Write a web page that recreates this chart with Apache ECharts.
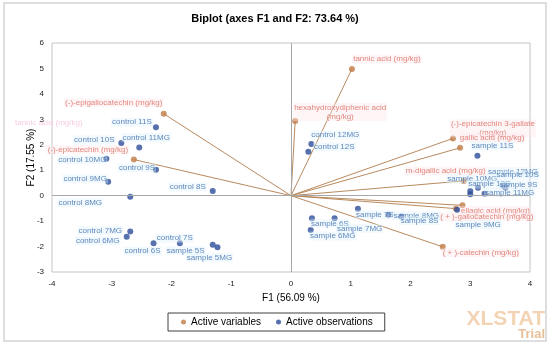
<!DOCTYPE html>
<html>
<head>
<meta charset="utf-8">
<script src="https://cdn.jsdelivr.net/npm/echarts@6/dist/echarts.min.js"></script>
<style>html,body{margin:0;padding:0;background:#fff}#c{width:550px;height:345px}</style>
</head>
<body>
<div id="c"></div>
<script>
// ---- data ----
const varNames = ['(-)-epigallocatechin (mg/kg)', '(-)-epicatechin (mg/kg)', 'tannic acid (mg/kg)',
  'hexahydroxydiphenic acid\n(mg/kg)', '(-)-epicatechin 3-gallate\n(mg/kg)', 'gallic acid (mg/kg)',
  'm-digallic acid (mg/kg)', 'ellagic acid (mg/kg)', '( + )-gallocatechin (mg/kg)', '( + )-catechin (mg/kg)'];
const varF1 = [-2.13, -2.63, 1.02, 0.07, 2.71, 2.83, 2.89, 2.87, 2.76, 2.54];
const varF2 = [3.22, 1.42, 4.98, 2.93, 2.25, 1.88, 0.58, -0.38, -0.51, -2.01];

const obsNames = ['control 11S', 'control 10S', 'control 11MG', 'control 10MG', 'control 9S', 'control 9MG',
  'control 8MG', 'control 8S', 'control 7MG', 'control 6MG', 'control 6S', 'control 7S', 'sample 5S', 'sample 5MG',
  'control 12MG', 'control 12S', 'sample 6S', 'sample 6MG', 'sample 7MG', 'sample 7S', 'sample 8MG', 'sample 8S',
  'sample 11S', 'sample 10MG', 'sample 12S', 'sample 12MG', 'sample 11MG', 'sample 10S', 'sample 9S', 'sample 9MG'];
const obsF1 = [-2.26, -2.84, -2.54, -3.09, -2.26, -3.06, -2.69, -1.31, -2.69, -2.75, -2.30, -1.86, -1.31, -1.23,
  0.34, 0.29, 0.35, 0.33, 0.73, 1.12, 1.63, 1.85, 3.12, 3.00, 3.00, 3.13, 3.24, 3.56, 3.59, 2.78];
const obsF2 = [2.69, 2.07, 1.89, 1.45, 1.02, 0.55, -0.04, 0.18, -1.41, -1.61, -1.87, -1.87, -1.93, -2.03,
  2.03, 1.73, -0.89, -1.35, -0.89, -0.51, -0.75, -0.82, 1.57, 0.18, 0.06, 0.31, 0.08, 0.37, 0.31, -0.55];

const xRange = [-4, 4], yRange = [-3, 6], tickStep = 1;
const titleText = 'Biplot (axes F1 and F2: 73.64 %)';
const xName = 'F1 (56.09 %)', yName = 'F2 (17.55 %)';

// ---- label placement (styling, pixel offsets of label centre from point) ----
const varLabelOffset = {
  '(-)-epigallocatechin (mg/kg)': [-50, -11], '(-)-epicatechin (mg/kg)': [-46, -10], 'tannic acid (mg/kg)': [35, -10],
  'hexahydroxydiphenic acid\n(mg/kg)': [45, -9], '(-)-epicatechin 3-gallate\n(mg/kg)': [40, -10],
  'gallic acid (mg/kg)': [32, -10], 'm-digallic acid (mg/kg)': [-18, -10], 'ellagic acid (mg/kg)': [33, 5],
  '( + )-gallocatechin (mg/kg)': [31, 8], '( + )-catechin (mg/kg)': [38, 6]
};
const obsLabelOffset = {
  'control 11S': [-24, -5], 'control 10S': [-27, -3], 'control 11MG': [7, -10], 'control 10MG': [-24, 1],
  'control 9S': [-19, -2], 'control 9MG': [-23, -3], 'control 8MG': [-50, 6], 'control 8S': [-25, -4],
  'control 7MG': [-30, -1], 'control 6MG': [-29, 4], 'control 6S': [-11, 8], 'control 7S': [-5, -5],
  'sample 5S': [-27, 6], 'sample 5MG': [-8, 10], 'control 12MG': [24, -9], 'control 12S': [26, -5],
  'sample 6S': [18, 5], 'sample 6MG': [22, 6], 'sample 7MG': [25, 10], 'sample 7S': [17, 6],
  'sample 8MG': [28, 1], 'sample 8S': [18, 4], 'sample 11S': [15, -10], 'sample 10MG': [2, -12],
  'sample 12S': [19, -10], 'sample 12MG': [35, -16], 'sample 11MG': [25, -1], 'sample 10S': [14, -11],
  'sample 9S': [13, -3], 'sample 9MG': [21, 15]
};

const FONT = '"Liberation Sans", Arial, sans-serif';
const chart = echarts.init(document.getElementById('c'), null, {renderer: 'canvas'});

const varData = varNames.map((n, i) => ({name: n, value: [varF1[i], varF2[i]], label: {offset: varLabelOffset[n]}}));
const obsData = obsNames.map((n, i) => ({name: n, value: [obsF1[i], obsF2[i]], label: {offset: obsLabelOffset[n]}}));
const lineData = varNames.map((n, i) => ({coords: [[0, 0], [varF1[i], varF2[i]]]}));

chart.setOption({
  animation: false,
  backgroundColor: '#fff',
  textStyle: {fontFamily: FONT},
  title: {
    text: titleText, left: 'center', top: 8,
    textStyle: {fontFamily: FONT, fontSize: 11, fontWeight: 'bold', color: '#000'}
  },
  legend: {
    data: ['Active variables', 'Active observations'],
    left: 168, top: 313, padding: [4, 12, 4, 13],
    borderColor: '#404040', borderWidth: 1, itemGap: 15,
    icon: 'circle', itemWidth: 5, itemHeight: 5,
    textStyle: {fontFamily: FONT, fontSize: 10, color: '#000'}
  },
  grid: {left: 52, right: 20, top: 43, bottom: 73, show: true, borderColor: '#c4c4c4', borderWidth: 1},
  xAxis: {
    type: 'value', min: xRange[0], max: xRange[1], interval: tickStep,
    name: xName, nameLocation: 'middle', nameGap: 21, nameMoveOverlap: false,
    nameTextStyle: {fontFamily: FONT, fontSize: 10, color: '#000'},
    axisLine: {show: false}, axisTick: {show: false}, splitLine: {show: false},
    axisLabel: {fontSize: 8, color: '#222', margin: 8}
  },
  yAxis: {
    type: 'value', min: yRange[0], max: yRange[1], interval: tickStep,
    name: yName, nameLocation: 'middle', nameGap: 16, nameMoveOverlap: false,
    nameTextStyle: {fontFamily: FONT, fontSize: 10, color: '#000'},
    axisLine: {show: false}, axisTick: {show: false}, splitLine: {show: false},
    axisLabel: {fontSize: 8, color: '#222', margin: 8}
  },
  graphic: [
    {type: 'rect', shape: {x: 4, y: 3, width: 542, height: 338}, style: {fill: 'none', stroke: '#d4d4d4', lineWidth: 1.5}, silent: true, z: -1},
    {type: 'text', right: 5, top: 309, style: {text: 'XLSTAT', fill: '#f3d3b3', font: 'bold 21px ' + FONT}, silent: true},
    {type: 'text', right: 5, top: 328, style: {text: 'Trial', fill: '#e9bf98', font: 'bold 13px ' + FONT}, silent: true},
    {type: 'text', left: 15, top: 119, style: {text: 'tannic acid (mg/kg)', fill: '#f6cde4', font: '8px ' + FONT}, silent: true}
  ],
  series: [
    {
      type: 'lines', coordinateSystem: 'cartesian2d', z: 1, silent: true,
      lineStyle: {color: '#b98a5e', width: 1, opacity: 1},
      data: lineData,
      markLine: {
        silent: true, symbol: 'none', label: {show: false}, animation: false,
        lineStyle: {color: '#a8a8a8', type: 'solid', width: 1},
        data: [{xAxis: 0}, {yAxis: 0}]
      }
    },
    {
      name: 'Active variables', type: 'scatter', z: 2, symbol: 'circle', symbolSize: 6,
      itemStyle: {color: '#c07a45'},
      label: {
        show: true, position: 'inside', formatter: '{b}', fontFamily: FONT, fontSize: 8, lineHeight: 9,
        color: '#dc6a5c', textBorderWidth: 0, align: 'center', verticalAlign: 'middle',
        backgroundColor: 'rgba(253,230,235,0.5)', padding: [0, 1]
      },
      data: varData
    },
    {
      name: 'Active observations', type: 'scatter', z: 3, symbol: 'circle', symbolSize: 6,
      itemStyle: {color: '#2c4e9a'},
      label: {
        show: true, position: 'inside', formatter: '{b}', fontFamily: FONT, fontSize: 8, lineHeight: 9,
        color: '#3a6aae', textBorderWidth: 0, align: 'center', verticalAlign: 'middle',
        backgroundColor: 'rgba(222,243,250,0.5)', padding: [0, 1]
      },
      data: obsData
    }
  ]
});
</script>
</body>
</html>
